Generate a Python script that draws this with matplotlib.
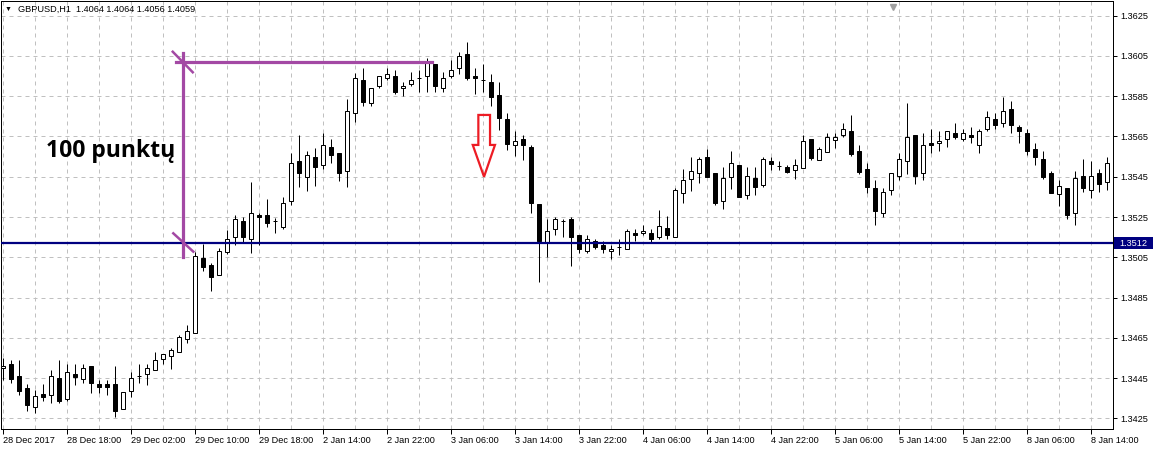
import matplotlib
matplotlib.use("Agg")
import matplotlib.pyplot as plt
from matplotlib.patches import Polygon, Rectangle
import matplotlib.transforms as mtransforms
import numpy as np

# GBPUSD H1 candles (bar 0 = 28 Dec 2017 10:00)
opens = [
    1.34498, 1.34520, 1.34460, 1.34401, 1.34308, 1.34371, 1.34367, 1.34450, 1.34347, 1.34470,
    1.34447, 1.34510, 1.34420, 1.34420, 1.34420, 1.34298, 1.34387, 1.34459, 1.34470, 1.34490,
    1.34546, 1.34559, 1.34579, 1.34642, 1.34672, 1.35046, 1.35010, 1.34960, 1.35076, 1.35152,
    1.35231, 1.35142, 1.35261, 1.35261, 1.35231, 1.35202, 1.35331, 1.35527, 1.35450, 1.35546,
    1.35507, 1.35596, 1.35566, 1.35477, 1.35765, 1.35929, 1.35815, 1.35899, 1.35939, 1.35949,
    1.35889, 1.35909, 1.35939, 1.35949, 1.36008, 1.35889, 1.35949, 1.35988, 1.36058, 1.35949,
    1.35929, 1.35919, 1.35854, 1.35735, 1.35606, 1.35636, 1.35596, 1.35313, 1.35122, 1.35192,
    1.35231, 1.35241, 1.35162, 1.35082, 1.35132, 1.35112, 1.35082, 1.35102, 1.35092, 1.35172,
    1.35172, 1.35172, 1.35152, 1.35195, 1.35152, 1.35371, 1.35440, 1.35467, 1.35548, 1.35468,
    1.35331, 1.35450, 1.35508, 1.35361, 1.35444, 1.35410, 1.35528, 1.35505, 1.35498, 1.35485,
    1.35495, 1.35637, 1.35535, 1.35574, 1.35634, 1.35657, 1.35677, 1.35578, 1.35488, 1.35392,
    1.35271, 1.35383, 1.35452, 1.35527, 1.35656, 1.35467, 1.35616, 1.35616, 1.35636, 1.35666,
    1.35636, 1.35656, 1.35606, 1.35686, 1.35735, 1.35715, 1.35785, 1.35695, 1.35666, 1.35586,
    1.35536, 1.35467, 1.35363, 1.35392, 1.35271, 1.35452, 1.35383, 1.35467, 1.35422,
]
highs = [
    1.34548, 1.34540, 1.34540, 1.34420, 1.34391, 1.34420, 1.34490, 1.34540, 1.34520, 1.34520,
    1.34520, 1.34510, 1.34440, 1.34440, 1.34510, 1.34381, 1.34480, 1.34520, 1.34520, 1.34579,
    1.34569, 1.34599, 1.34662, 1.34712, 1.35076, 1.35116, 1.35023, 1.35096, 1.35185, 1.35261,
    1.35251, 1.35424, 1.35271, 1.35341, 1.35245, 1.35351, 1.35569, 1.35656, 1.35576, 1.35593,
    1.35666, 1.35636, 1.35566, 1.35835, 1.35967, 1.35988, 1.35889, 1.35949, 1.35988, 1.35978,
    1.35919, 1.35969, 1.35978, 1.36038, 1.36008, 1.35969, 1.36028, 1.36068, 1.36118, 1.35988,
    1.36008, 1.35959, 1.35919, 1.35765, 1.35676, 1.35656, 1.35606, 1.35313, 1.35241, 1.35251,
    1.35241, 1.35251, 1.35162, 1.35162, 1.35142, 1.35132, 1.35112, 1.35142, 1.35192, 1.35192,
    1.35212, 1.35192, 1.35285, 1.35255, 1.35394, 1.35490, 1.35548, 1.35548, 1.35588, 1.35468,
    1.35500, 1.35578, 1.35508, 1.35500, 1.35500, 1.35548, 1.35548, 1.35528, 1.35508, 1.35538,
    1.35657, 1.35637, 1.35598, 1.35667, 1.35667, 1.35717, 1.35757, 1.35607, 1.35518, 1.35434,
    1.35396, 1.35467, 1.35569, 1.35815, 1.35656, 1.35666, 1.35687, 1.35676, 1.35676, 1.35715,
    1.35686, 1.35695, 1.35686, 1.35775, 1.35765, 1.35844, 1.35825, 1.35705, 1.35686, 1.35616,
    1.35576, 1.35477, 1.35432, 1.35392, 1.35478, 1.35536, 1.35527, 1.35487, 1.35546,
]
lows = [
    1.34440, 1.34427, 1.34367, 1.34288, 1.34278, 1.34337, 1.34328, 1.34328, 1.34337, 1.34417,
    1.34427, 1.34377, 1.34377, 1.34367, 1.34258, 1.34298, 1.34357, 1.34427, 1.34417, 1.34490,
    1.34520, 1.34496, 1.34579, 1.34623, 1.34672, 1.34980, 1.34881, 1.34960, 1.35066, 1.35112,
    1.35122, 1.35072, 1.35112, 1.35202, 1.35172, 1.35192, 1.35311, 1.35400, 1.35381, 1.35404,
    1.35487, 1.35517, 1.35430, 1.35400, 1.35722, 1.35801, 1.35801, 1.35889, 1.35929, 1.35862,
    1.35852, 1.35899, 1.35869, 1.35872, 1.35872, 1.35872, 1.35939, 1.35959, 1.35929, 1.35862,
    1.35869, 1.35801, 1.35684, 1.35584, 1.35554, 1.35535, 1.35271, 1.34929, 1.35053, 1.35162,
    1.35152, 1.35008, 1.35072, 1.35072, 1.35092, 1.35072, 1.35043, 1.35063, 1.35092, 1.35132,
    1.35162, 1.35122, 1.35142, 1.35142, 1.35152, 1.35321, 1.35381, 1.35420, 1.35450, 1.35311,
    1.35291, 1.35390, 1.35351, 1.35341, 1.35361, 1.35400, 1.35485, 1.35485, 1.35468, 1.35440,
    1.35495, 1.35535, 1.35535, 1.35574, 1.35594, 1.35647, 1.35554, 1.35465, 1.35371, 1.35212,
    1.35251, 1.35361, 1.35432, 1.35463, 1.35412, 1.35432, 1.35566, 1.35576, 1.35596, 1.35636,
    1.35626, 1.35616, 1.35566, 1.35676, 1.35686, 1.35695, 1.35666, 1.35616, 1.35556, 1.35507,
    1.35440, 1.35371, 1.35303, 1.35241, 1.35212, 1.35373, 1.35343, 1.35373, 1.35383,
]
closes = [
    1.34510, 1.34447, 1.34387, 1.34318, 1.34361, 1.34357, 1.34459, 1.34337, 1.34480, 1.34457,
    1.34500, 1.34427, 1.34407, 1.34407, 1.34288, 1.34381, 1.34450, 1.34459, 1.34500, 1.34540,
    1.34569, 1.34589, 1.34652, 1.34682, 1.35056, 1.35000, 1.34950, 1.35082, 1.35142, 1.35241,
    1.35152, 1.35271, 1.35251, 1.35222, 1.35231, 1.35321, 1.35517, 1.35467, 1.35556, 1.35497,
    1.35606, 1.35556, 1.35467, 1.35775, 1.35939, 1.35823, 1.35889, 1.35949, 1.35959, 1.35872,
    1.35899, 1.35929, 1.35939, 1.36018, 1.35899, 1.35939, 1.35978, 1.36048, 1.35939, 1.35939,
    1.35929, 1.35844, 1.35743, 1.35614, 1.35626, 1.35606, 1.35321, 1.35132, 1.35182, 1.35241,
    1.35231, 1.35152, 1.35092, 1.35142, 1.35102, 1.35092, 1.35092, 1.35102, 1.35182, 1.35162,
    1.35182, 1.35142, 1.35205, 1.35162, 1.35384, 1.35434, 1.35478, 1.35538, 1.35450, 1.35321,
    1.35444, 1.35518, 1.35351, 1.35454, 1.35400, 1.35538, 1.35515, 1.35505, 1.35475, 1.35508,
    1.35627, 1.35544, 1.35588, 1.35647, 1.35647, 1.35687, 1.35564, 1.35475, 1.35399, 1.35281,
    1.35373, 1.35467, 1.35536, 1.35646, 1.35452, 1.35606, 1.35606, 1.35626, 1.35676, 1.35646,
    1.35666, 1.35646, 1.35676, 1.35745, 1.35705, 1.35775, 1.35705, 1.35676, 1.35576, 1.35546,
    1.35450, 1.35371, 1.35402, 1.35261, 1.35442, 1.35392, 1.35452, 1.35412, 1.35517,
]

time_labels = [
    "28 Dec 2017", "28 Dec 18:00", "29 Dec 02:00", "29 Dec 10:00", "29 Dec 18:00",
    "2 Jan 14:00", "2 Jan 22:00", "3 Jan 06:00", "3 Jan 14:00", "3 Jan 22:00",
    "4 Jan 06:00", "4 Jan 14:00", "4 Jan 22:00", "5 Jan 06:00", "5 Jan 14:00",
    "5 Jan 22:00", "8 Jan 06:00", "8 Jan 14:00",
]
price_ticks = [1.3425, 1.3445, 1.3465, 1.3485, 1.3505, 1.3525,
               1.3545, 1.3565, 1.3585, 1.3605, 1.3625]

header = "GBPUSD,H1  1.4064 1.4064 1.4056 1.4059"
level_price = 1.3512
range_label = "100 punktų"

# drawn objects on the chart (bar index, price)
measure_x = 22.5
measure_top, measure_bottom = 1.36064, 1.35051
top_line_y, top_line_x = 1.36018, (21.55, 53.55)
top_tick = [(21.18, 1.36071), (23.68, 1.35969)]
bottom_tick = [(21.25, 1.35169), (23.75, 1.35078)]
arrow_xy = [(59.38, 1.35757), (60.84, 1.35757), (60.84, 1.35608), (61.46, 1.35608),
            (60.09, 1.35450), (58.68, 1.35608), (59.38, 1.35608)]

PURPLE = "#A349A4"
NAVY = "#000080"
GRID = "#C0C0C0"
PX = 0.72  # one pixel in points at dpi 100

W, H, DPI = 1153, 449, 100
plt.rcParams["font.family"] = ["Liberation Sans", "DejaVu Sans"]

fig = plt.figure(figsize=(W / DPI, H / DPI), dpi=DPI, facecolor="white")
ax = fig.add_axes([1 / W, (H - 429) / H, 1112 / W, 428 / H])
ax.set_facecolor("white")

n = len(opens)
x = np.arange(n)
o = np.array(opens)
c = np.array(closes)

ax.set_xlim(-0.2875, 138.71)
ax.set_ylim(1.34197, 1.36323)

# dashed grid
for gx in range(0, n, 4):
    ax.axvline(gx, color=GRID, lw=PX, ls=(0, (4, 4)), zorder=0)
for gy in price_ticks:
    ax.axhline(gy, color=GRID, lw=PX, ls=(0, (4, 4)), zorder=0)

# candles
ax.vlines(x, lows, highs, color="black", lw=PX, zorder=2)
bull = c >= o
ax.bar(x, np.abs(c - o), bottom=np.minimum(o, c), width=0.5,
       color=np.where(bull, "white", "black"), edgecolor="black", lw=PX, zorder=3)

# support level with its price tag on the scale
ax.axhline(level_price, color=NAVY, lw=1.6, zorder=4)
tag = mtransforms.blended_transform_factory(fig.transFigure, ax.transData)
ax.add_patch(Rectangle((1114 / W, level_price - 0.00031), 39 / W, 0.00062,
                       transform=tag, fc=NAVY, ec="none", clip_on=False, zorder=6))
ax.text(1119 / W, level_price, "1.3512", transform=tag, ha="left", va="center",
        color="white", fontsize=6.6, zorder=7, clip_on=False)

# measuring tool
ax.plot([measure_x, measure_x], [measure_bottom, measure_top], color=PURPLE, lw=2.3, zorder=5)
ax.plot(list(top_line_x), [top_line_y, top_line_y], color=PURPLE, lw=2.3, zorder=5)
for seg in (top_tick, bottom_tick):
    ax.plot([seg[0][0], seg[1][0]], [seg[0][1], seg[1][1]], color=PURPLE, lw=1.8, zorder=5)
ax.text(13.46, 1.35580, range_label, ha="center", va="center", fontsize=16.5,
        fontweight="bold", family=["Open Sans", "DejaVu Sans"], zorder=6)

# red hollow arrow
ax.add_patch(Polygon(arrow_xy, closed=True, fill=False, ec="#ED1C24", lw=1.6, zorder=6))

# axes styling
for sp in ax.spines.values():
    sp.set_color("black")
    sp.set_linewidth(PX)
ax.yaxis.tick_right()
ax.set_yticks(price_ticks)
ax.set_yticklabels([f"{p:.4f}" for p in price_ticks])
ax.set_xticks(np.arange(0, n, 8)[:len(time_labels)])
ax.set_xticklabels(time_labels)
for lbl in ax.get_xticklabels():
    lbl.set_horizontalalignment("left")
ax.tick_params(axis="y", direction="out", length=3, width=PX, pad=2.5, labelsize=6.6)
ax.tick_params(axis="x", direction="out", length=3.5, width=PX, pad=1.5, labelsize=6.6)

# chart shift marker and header
shift = mtransforms.blended_transform_factory(ax.transData, ax.transAxes)
ax.plot([111.2], [0.985], marker="v", ms=5, color="#A0A0A0", transform=shift, clip_on=False)
fig.text(5 / W, 1 - 9.5 / H, "\u25BC", fontsize=5, va="center", ha="left")
fig.text(18 / W, 1 - 9.5 / H, header, fontsize=6.6, va="center", ha="left")

fig.savefig("out.png", dpi=DPI, facecolor="white")
